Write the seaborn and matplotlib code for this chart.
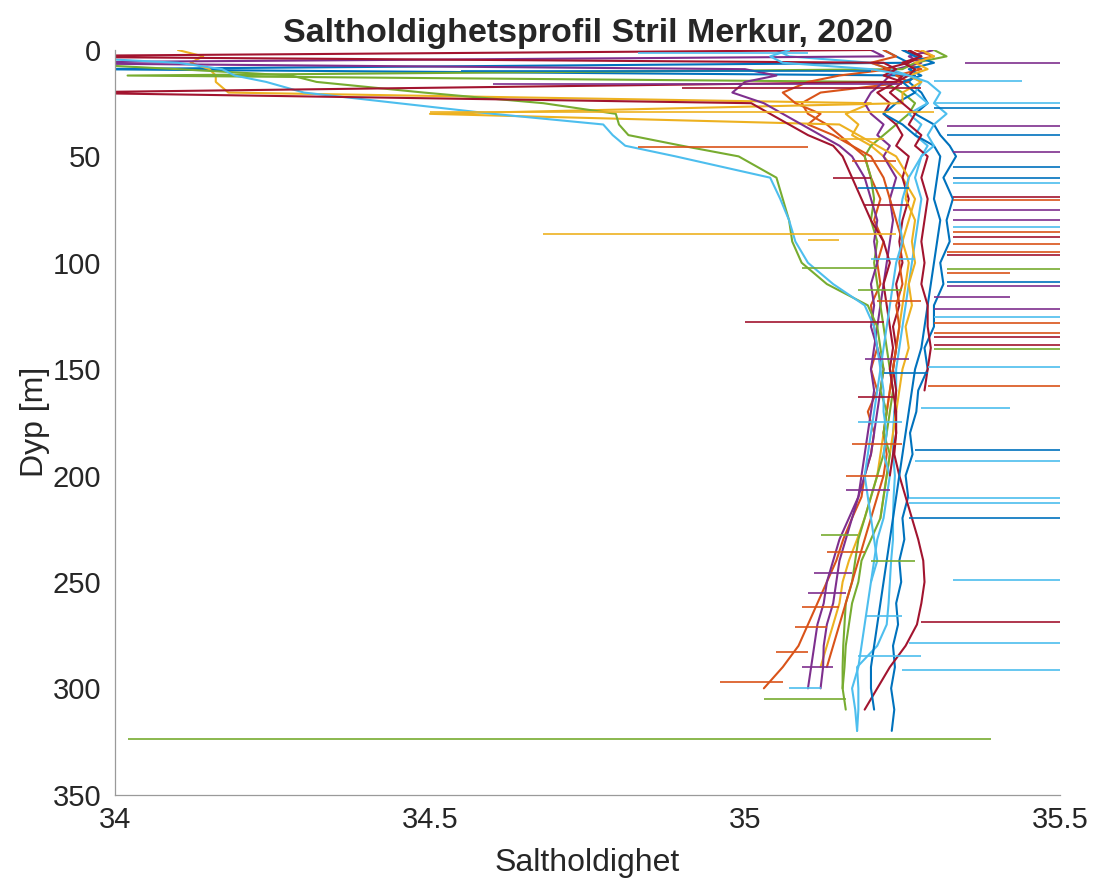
import numpy as np
import pandas as pd
import matplotlib
matplotlib.use("Agg")
import matplotlib.pyplot as plt
import seaborn as sns

sns.set_theme(style="white")
plt.rcParams["font.family"] = ["Liberation Sans", "DejaVu Sans"]

nan = np.nan

# MATLAB sin standard fargerekkefølge
BLA = "#0072BD"
ORA = "#D95319"
GUL = "#EDB120"
LIL = "#7E2F8E"
GRO = "#77AC30"
LBL = "#4DBEEE"
ROD = "#A2142F"

# felles dybdegrid [m]
dyp = [0, 3, 6, 9, 12, 15, 20, 25,
       30, 35, 40, 45, 50, 60, 70, 80,
       90, 100, 110, 120, 130, 140, 150, 160,
       170, 180, 190, 200, 210, 220, 230, 240,
       250, 260, 270, 280, 290, 300, 310, 320]

# saltholdighet per stasjon
salt_b1 = [35.22, 35.24, 35.26, 33.95, 35.27, 35.26, 35.28, 35.29,
           35.27, 35.30, 35.31, 35.325, 35.335, 35.315, 35.33, 35.32,
           35.325, 35.31, 35.315, 35.30, 35.30, 35.285, 35.29, 35.275,
           35.272, 35.262, 35.266, 35.255, 35.259, 35.25, 35.253, 35.245,
           35.248, 35.24, 35.243, 35.235, 35.238, 35.232, 35.237, 35.233]
salt_o1 = [35.27, 35.30, 35.25, 35.28, 35.24, 35.26, 35.12, 35.09,
           35.10, 35.13, 35.15, 35.17, 35.19, 35.20, 35.215, 35.205,
           35.22, 35.21, 35.215, 35.20, 35.205, 35.21, 35.20, 35.21,
           35.195, 35.205, 35.20, 35.19, 35.185, 35.17, 35.156, 35.145,
           35.13, 35.115, 35.10, 35.085, 35.06, 35.03, nan, nan]
salt_y1 = [34.10, 34.14, 34.12, 34.15, 34.16, 34.16, 34.18, 35.20,
           35.16, 35.18, 35.17, 35.20, 35.22, 35.25, 35.27, 35.26,
           35.25, 35.26, 35.255, 35.25, 35.245, 35.24, 35.235, 35.23,
           35.225, 35.22, 35.215, 35.21, 35.20, 35.19, 35.178, 35.165,
           35.155, 35.15, 35.14, 35.13, 35.12, nan, nan, nan]
salt_pu1 = [35.30, 35.26, 35.28, 35.24, 35.23, 35.22, 35.20, 35.19,
            35.20, 35.22, 35.21, 35.23, 35.22, 35.24, 35.23, 35.235,
            35.23, 35.225, 35.22, 35.215, 35.21, 35.205, 35.20, 35.205,
            35.20, 35.195, 35.19, 35.185, 35.18, 35.17, 35.16, 35.15,
            35.145, 35.14, 35.13, 35.125, 35.124, 35.12, nan, nan]
salt_g2 = [35.30, 35.32, 35.27, 35.25, 34.02, 35.22, 35.25, 35.27,
           35.26, 35.24, 35.22, 35.20, 35.19, 35.20, 35.205, 35.20,
           35.21, 35.205, 35.21, 35.215, 35.22, 35.225, 35.23, 35.235,
           35.23, 35.225, 35.22, 35.21, 35.20, 35.19, 35.18, 35.175,
           35.17, 35.16, 35.158, 35.156, 35.155, 35.155, nan, nan]
salt_lb2 = [35.05, 35.07, 35.20, 35.23, 35.26, 35.28, 35.27, 35.29,
            35.26, 35.28, 35.27, 35.29, 35.28, 35.27, 35.28, 35.275,
            35.27, 35.265, 35.26, 35.255, 35.25, 35.245, 35.24, 35.24,
            35.237, 35.235, 35.235, 35.238, 35.236, 35.235, 35.235, 35.232,
            35.23, 35.228, 35.225, 35.21, 35.178, 35.18, 35.18, 35.178]
salt_r1 = [35.25, 35.28, 35.26, 35.22, 35.25, 35.24, 35.21, 35.23,
           35.22, 35.24, 35.25, 35.24, 35.26, 35.25, 35.26, 35.25,
           35.245, 35.25, 35.24, 35.245, 35.235, 35.24, 35.235, 35.24,
           35.238, 35.24, 35.237, 35.245, 35.255, 35.265, 35.275, 35.283,
           35.285, 35.28, 35.273, 35.255, 35.23, 35.21, 35.19, nan]
salt_b2 = [35.25, 35.27, 35.30, 35.26, 35.28, 35.25, 35.27, 35.24,
           35.22, 35.25, 35.27, 35.30, 35.31, 35.305, 35.30, 35.31,
           35.305, 35.30, 35.295, 35.29, 35.285, 35.28, 35.27, 35.265,
           35.26, 35.255, 35.25, 35.245, 35.24, 35.235, 35.23, 35.225,
           35.22, 35.215, 35.21, 35.205, 35.20, 35.20, 35.205, nan]
salt_o2 = [35.22, 35.24, 35.20, 35.23, 35.15, 35.10, 35.06, 35.08,
           35.12, 35.10, 35.14, 35.17, 35.20, 35.22, 35.23, 35.24,
           35.25, 35.245, 35.25, 35.24, 35.245, 35.24, 35.235, 35.23,
           35.225, 35.22, 35.225, 35.22, 35.21, 35.20, 35.19, 35.18,
           35.17, 35.16, 35.15, 35.14, 35.13, nan, nan, nan]
salt_y2 = [35.28, 35.30, 35.27, 35.29, 35.26, 35.28, 35.25, 35.25,
           34.50, 35.15, 35.18, 35.21, 35.24, 35.26, 35.255, 35.27,
           35.265, 35.27, 35.26, 35.265, 35.255, 35.26, 35.25, 35.245,
           35.24, 35.235, 35.23, 35.225, 35.22, 35.215, nan, nan,
           nan, nan, nan, nan, nan, nan, nan, nan]
salt_pu2 = [35.20, 35.22, 33.80, 35.00, 35.05, 35.00, 34.98, 35.03,
            35.06, 35.09, 35.12, 35.15, 35.17, 35.19, 35.20, 35.21,
            35.205, 35.21, 35.20, 35.205, 35.20, 35.21, 35.22, 35.215,
            35.21, 35.205, 35.20, 35.19, 35.18, 35.165, 35.15, 35.14,
            35.13, 35.125, 35.115, 35.11, 35.105, 35.10, nan, nan]
salt_g1 = [nan, nan, 33.90, 34.10, 34.28, 34.32, 34.49, 34.68,
           34.795, 34.80, 34.815, 34.90, 34.99, 35.05, 35.06, 35.07,
           35.075, 35.09, 35.13, 35.195, 35.21, 35.215, 35.22, 35.215,
           35.225, 35.22, 35.23, 35.225, 35.22, 35.215, 35.20, 35.185,
           35.18, 35.17, 35.165, 35.16, 35.158, 35.155, 35.16, nan]
salt_lb1 = [nan, 33.90, 34.10, 34.17, 34.19, 34.24, 34.30, 34.45,
            34.60, 34.775, 34.79, 34.81, 34.89, 35.04, 35.056, 35.07,
            35.08, 35.10, 35.14, 35.19, 35.205, 35.21, 35.215, 35.22,
            35.22, 35.225, 35.22, 35.23, 35.225, 35.22, 35.21, 35.205,
            35.20, 35.195, 35.19, 35.185, 35.18, 35.17, 35.175, 35.178]
salt_r3 = [35.26, 35.28, 35.25, 35.27, 35.26, 35.24, 33.90, 35.01,
           35.04, 35.07, 35.10, 35.14, 35.155, 35.17, 35.185, 35.20,
           35.22, 35.23, 35.22, 35.225, 35.23, 35.235, 35.23, 35.235,
           35.24, 35.24, 35.235, 35.23, nan, nan, nan, nan,
           nan, nan, nan, nan, nan, nan, nan, nan]
salt_r4 = [35.20, 33.80, 35.22, 35.24, 35.22, 35.25, 35.23, 35.25,
           35.27, 35.26, 35.28, 35.27, 35.29, 35.28, 35.29, 35.285,
           35.28, 35.285, 35.28, 35.29, 35.29, 35.295, 35.29, 35.285,
           nan, nan, nan, nan, nan, nan, nan, nan,
           nan, nan, nan, nan, nan, nan, nan, nan]
salt_lb3 = [35.07, 35.04, 35.06, 35.20, 35.26, 35.29, 35.31, 35.30,
            35.32, 35.30, 35.29, 35.30, 35.28, 35.26, 35.25, 35.245,
            35.25, 35.24, 35.235, 35.23, 35.225, 35.22, 35.215, 35.21,
            35.205, 35.20, 35.195, 35.19, 35.195, 35.20, 35.205, 35.21,
            35.20, nan, nan, nan, nan, nan, nan, nan]

profiler = [
    ("b1", BLA, salt_b1), ("o1", ORA, salt_o1), ("y1", GUL, salt_y1),
    ("pu1", LIL, salt_pu1), ("g2", GRO, salt_g2), ("lb2", LBL, salt_lb2),
    ("r1", ROD, salt_r1), ("b2", BLA, salt_b2), ("o2", ORA, salt_o2),
    ("y2", GUL, salt_y2), ("pu2", LIL, salt_pu2), ("g1", GRO, salt_g1),
    ("lb1", LBL, salt_lb1), ("r3", ROD, salt_r3), ("r4", ROD, salt_r4),
    ("lb3", LBL, salt_lb3),
]

# spiker / utfall i målingene (dybde, fra, til, farge)
spike_dyp = [6.3, 14.4, 25, 27.4, 35.7, 40, 47.8, 54.8, 60.3, 62.3,
             68.9, 70.5, 75.2, 79.9, 83, 85.3, 87.7, 91, 94.7, 96.3,
             103, 105, 108.8, 110.9, 115.9, 121.8, 125.3, 128.1, 132.8, 135,
             138.6, 140.6, 149, 157.8, 168.3, 188, 193, 210.6, 213, 220,
             249, 268.6, 278.7, 291.3,
             86.5, 89.5, 127.6, 102.5, 45.5, 297, 305, 300, 324, 285,
             1.5, 10, 16, 18, 29,
             255, 262, 271, 283, 290, 240, 200, 175, 228, 60, 65,
             42, 52, 73, 98, 113, 118, 145, 152, 163, 185, 207, 236, 246, 266]
spike_fra = [35.35, 35.30, 35.30, 35.30, 35.32, 35.32, 35.33, 35.33, 35.33, 35.33,
             35.33, 35.33, 35.33, 35.33, 35.33, 35.33, 35.33, 35.33, 35.32, 35.32,
             35.32, 35.32, 35.32, 35.32, 35.30, 35.30, 35.30, 35.30, 35.30, 35.30,
             35.30, 35.30, 35.29, 35.29, 35.28, 35.27, 35.27, 35.26, 35.26, 35.26,
             35.33, 35.28, 35.26, 35.25,
             34.68, 35.10, 35.00, 35.09, 34.83, 34.96, 35.03, 35.07, 34.02, 35.18,
             34.83, 34.55, 34.60, 34.90, 34.50,
             35.10, 35.09, 35.08, 35.05, 35.09, 35.20, 35.16, 35.18, 35.12, 35.14, 35.18,
             35.15, 35.17, 35.19, 35.20, 35.18, 35.21, 35.19, 35.22, 35.18, 35.17,
             35.16, 35.13, 35.11, 35.19]
spike_til = [35.50, 35.44, 35.50, 35.50, 35.50, 35.50, 35.50, 35.50, 35.50, 35.50,
             35.50, 35.50, 35.50, 35.50, 35.50, 35.50, 35.50, 35.50, 35.50, 35.50,
             35.50, 35.42, 35.50, 35.50, 35.42, 35.50, 35.50, 35.50, 35.50, 35.50,
             35.50, 35.50, 35.50, 35.50, 35.42, 35.50, 35.50, 35.50, 35.50, 35.50,
             35.50, 35.50, 35.50, 35.50,
             35.24, 35.15, 35.22, 35.21, 35.10, 35.06, 35.16, 35.12, 35.39, 35.28,
             35.10, 35.20, 35.25, 35.28, 35.30,
             35.16, 35.15, 35.13, 35.10, 35.14, 35.27, 35.22, 35.25, 35.18, 35.20, 35.26,
             35.22, 35.24, 35.26, 35.27, 35.25, 35.28, 35.26, 35.29, 35.24, 35.25,
             35.23, 35.19, 35.17, 35.25]
spike_farge = [LIL, LBL, LBL, BLA, LIL, BLA, LIL, BLA, BLA, LBL,
               ROD, ORA, LIL, LIL, LBL, ORA, ROD, ORA, ORA, ROD,
               GRO, ORA, BLA, LIL, LIL, LIL, LBL, ORA, ORA, ROD,
               ROD, GRO, LBL, ORA, LBL, BLA, LBL, LBL, LBL, BLA,
               LBL, ROD, LBL, LBL,
               GUL, GUL, ROD, GRO, ORA, ORA, GRO, LBL, GRO, LBL,
               LBL, BLA, LIL, ROD, GUL,
               LIL, ORA, ORA, ORA, LIL, GRO, ORA, LBL, GRO, ROD, BLA,
               GUL, ORA, ROD, LBL, GRO, ORA, LIL, BLA, ROD, ORA,
               LIL, ORA, LIL, LBL]

rader = []
for navn, farge, salt in profiler:
    for d, s in zip(dyp, salt):
        if not np.isnan(s):
            rader.append((navn, d, s))
df = pd.DataFrame(rader, columns=["profil", "dyp", "salt"])
palett = {navn: farge for navn, farge, _ in profiler}

fig = plt.figure(figsize=(10.95, 8.85), dpi=100)
ax = fig.add_axes([0.105, 0.102, 0.863, 0.8415])

sns.lineplot(data=df, x="salt", y="dyp", hue="profil", palette=palett,
             estimator=None, sort=False, orient="y", legend=False,
             linewidth=1.5, ax=ax)
ax.hlines(spike_dyp, spike_fra, spike_til, colors=spike_farge, linewidth=1.2)

ax.set_xlim(34, 35.5)
ax.set_ylim(350, 0)
ax.set_xticks([34, 34.5, 35, 35.5])
ax.set_xticklabels(["34", "34.5", "35", "35.5"])
ax.set_yticks(range(0, 351, 50))

for side in ["top", "right"]:
    ax.spines[side].set_visible(False)
for side in ["left", "bottom"]:
    ax.spines[side].set_color("#9a9a9a")
    ax.spines[side].set_linewidth(0.9)

ax.tick_params(direction="in", length=7, width=0.8, color="#9a9a9a",
               labelsize=21, labelcolor="#262626")
ax.tick_params(axis="x", pad=8)
ax.tick_params(axis="y", pad=10)

ax.set_xlabel("Saltholdighet", fontsize=23, color="#262626", labelpad=10)
ax.set_ylabel("Dyp [m]", fontsize=23, color="#262626", labelpad=2)
ax.set_title("Saltholdighetsprofil Stril Merkur, 2020", fontsize=24.5,
             fontweight="bold", pad=6)

fig.savefig("out.png", dpi=100)
